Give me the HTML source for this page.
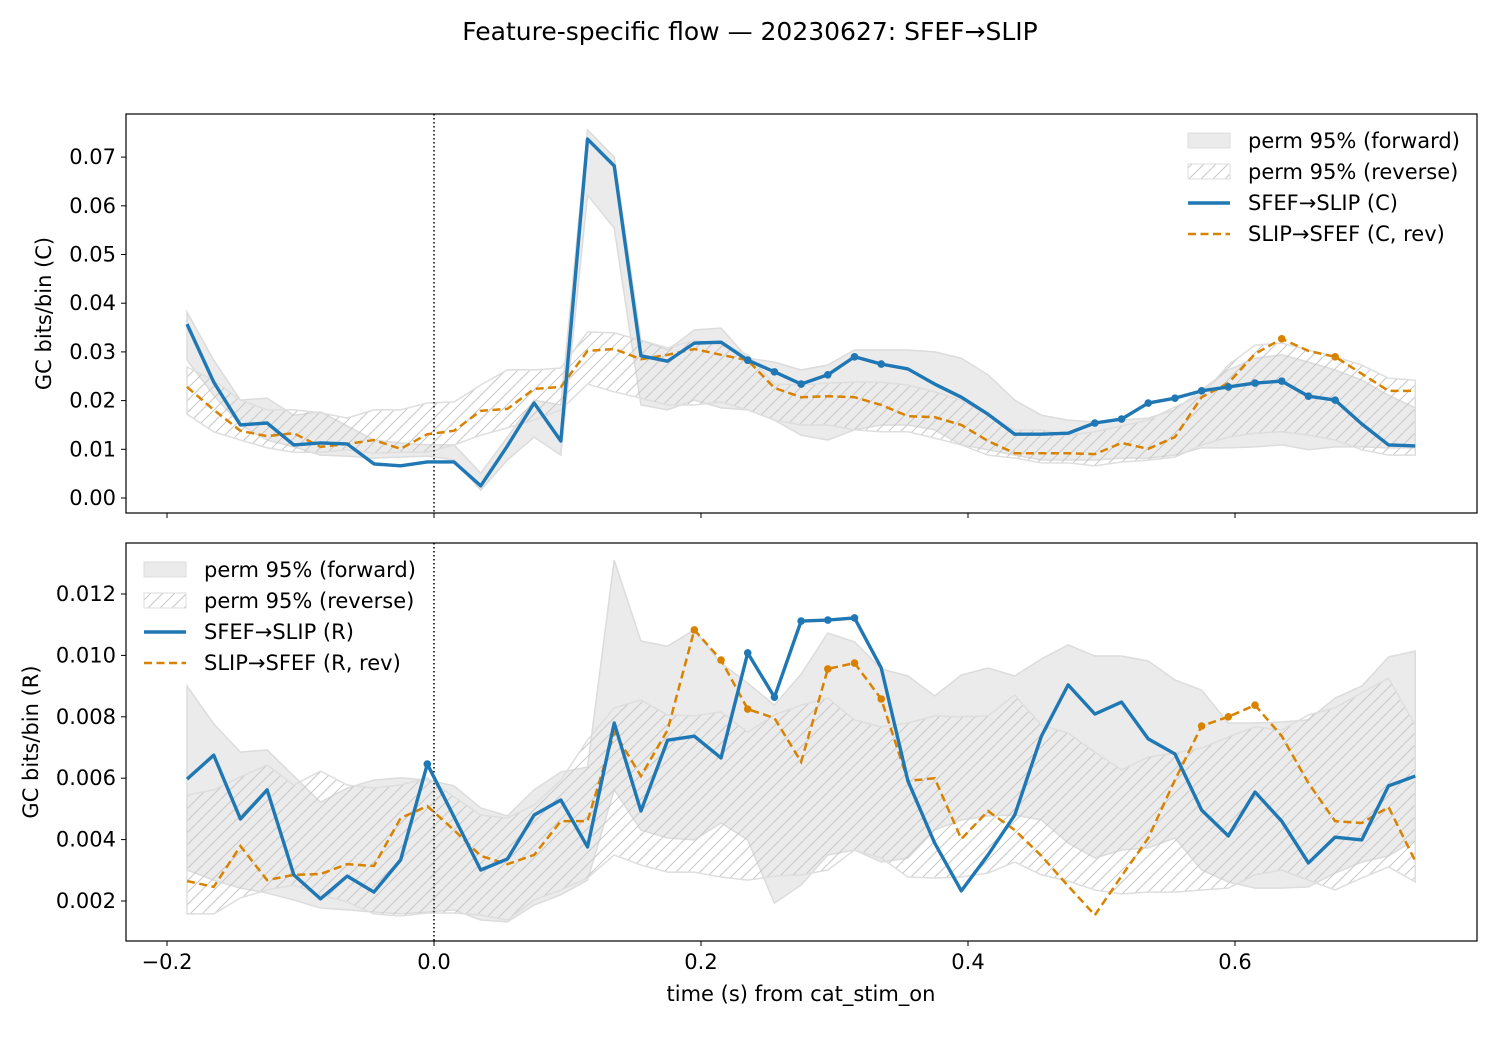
<!DOCTYPE html>
<html><head><meta charset="utf-8"><style>
body{margin:0;background:#fff}
svg text{font-family:"DejaVu Sans","Liberation Sans",sans-serif;fill:#000}
</style></head><body>
<svg id="fig" width="1500" height="1050" viewBox="0 0 1500 1050" xmlns="http://www.w3.org/2000/svg">
<defs>
<pattern id="hatch" patternUnits="userSpaceOnUse" width="12" height="12">
<path d="M-3,3 L3,-3 M0,12 L12,0 M9,15 L15,9" stroke="#c8c8c8" stroke-width="1"/>
</pattern>
</defs>
<text x="750" y="40" text-anchor="middle" font-size="25">Feature-specific flow — 20230627: SFEF→SLIP</text>
<g id="top"></g>
<g id="bot"></g>
<text x="801" y="1001" text-anchor="middle" font-size="21">time (s) from cat_stim_on</text>
</svg>
<script>
const times = Array.from({length:47},(_, i)=> -0.185 + 0.02*i);
// Top panel (C)
const topFwd = [0.0357,0.0238,0.0150,0.0154,0.0109,0.0113,0.0111,0.0070,0.0066,0.0074,0.0074,0.0025,0.0107,0.0195,0.0117,0.0737,0.0682,0.0292,0.0281,0.0318,0.0320,0.0283,0.0259,0.0234,0.0253,0.0290,0.0275,0.0265,0.0234,0.0207,0.0172,0.0131,0.0131,0.0133,0.0154,0.0162,0.0195,0.0205,0.0220,0.0228,0.0236,0.0240,0.0209,0.0201,0.0152,0.0109,0.0107];
const topRev = [0.0228,0.0181,0.0138,0.0127,0.0133,0.0105,0.0111,0.0119,0.0101,0.0131,0.0138,0.0179,0.0183,0.0224,0.0228,0.0302,0.0306,0.0285,0.0294,0.0306,0.0294,0.0283,0.0226,0.0207,0.0209,0.0207,0.0191,0.0168,0.0166,0.0150,0.0117,0.0092,0.0092,0.0092,0.0090,0.0113,0.0101,0.0125,0.0207,0.0236,0.0296,0.0327,0.0302,0.0290,0.0255,0.0220,0.0220];
const topFwdSig = [21,22,23,24,25,26,34,35,36,37,38,39,40,41,42,43];
const topRevSig = [21,41,43];
const topFwdHi = [.0382,.0283,.0201,.0205,.0170,.0177,.0148,.0119,.0113,.0109,.0109,.0051,.0125,.0201,.0191,.0756,.0700,.0324,.0304,.0345,.0349,.0287,.0279,.0263,.0273,.0304,.0304,.0304,.0300,.0287,.0253,.0201,.0170,.0160,.0156,.0160,.0164,.0181,.0222,.0263,.0287,.0294,.0279,.0263,.0242,.0211,.0185];
const topFwdLo = [.0283,.0211,.0150,.0119,.0105,.0088,.0086,.0082,.0084,.0086,.0078,.0016,.0078,.0125,.0088,.0622,.0554,.0191,.0181,.0201,.0185,.0181,.0160,.0129,.0119,.0140,.0150,.0150,.0140,.0109,.0099,.0088,.0078,.0078,.0078,.0082,.0082,.0088,.0103,.0103,.0105,.0109,.0099,.0105,.0105,.0103,.0103];
const topRevHi = [.0269,.0242,.0201,.0181,.0181,.0175,.0164,.0181,.0181,.0195,.0197,.0232,.0263,.0263,.0267,.0341,.0339,.0324,.0308,.0324,.0314,.0294,.0234,.0232,.0236,.0238,.0238,.0232,.0218,.0201,.0170,.0140,.0140,.0129,.0136,.0148,.0160,.0187,.0211,.0273,.0314,.0318,.0304,.0290,.0273,.0246,.0242];
const topRevLo = [.0172,.0136,.0119,.0103,.0094,.0094,.0099,.0092,.0094,.0094,.0109,.0129,.0144,.0160,.0181,.0234,.0218,.0205,.0191,.0191,.0197,.0181,.0160,.0150,.0150,.0140,.0136,.0136,.0123,.0109,.0088,.0082,.0072,.0072,.0066,.0074,.0078,.0084,.0109,.0125,.0133,.0136,.0129,.0119,.0099,.0088,.0088];
const topTicks = [0.00,0.01,0.02,0.03,0.04,0.05,0.06,0.07];
// Bottom panel (R)
const botFwd = [0.00597,0.00675,0.00467,0.00562,0.00285,0.00207,0.00281,0.00229,0.00334,0.00646,0.00474,0.00301,0.00337,0.00480,0.00529,0.00376,0.00780,0.00493,0.00724,0.00737,0.00666,0.01008,0.00864,0.01112,0.01115,0.01122,0.00959,0.00591,0.00389,0.00233,0.00350,0.00480,0.00737,0.00904,0.00809,0.00848,0.00728,0.00679,0.00496,0.00412,0.00555,0.00460,0.00324,0.00408,0.00399,0.00575,0.00607];
const botRev = [0.00265,0.00246,0.00379,0.00268,0.00285,0.00288,0.00320,0.00314,0.00470,0.00509,0.00431,0.00347,0.00320,0.00350,0.00460,0.00460,0.00750,0.00607,0.00757,0.01083,0.00985,0.00825,0.00796,0.00653,0.00956,0.00975,0.00858,0.00591,0.00600,0.00402,0.00493,0.00431,0.00347,0.00249,0.00154,0.00281,0.00405,0.00594,0.00770,0.00800,0.00838,0.00737,0.00584,0.00460,0.00454,0.00506,0.00330];
const botFwdSig = [9,21,22,23,24,25];
const botRevSig = [19,20,21,24,25,26,38,39,40];
const botFwdHi = [.00900,.00777,.00685,.00692,.00607,.00522,.00568,.00594,.00601,.00594,.00575,.00503,.00477,.00562,.00620,.00636,.01310,.01047,.01030,.01083,.00975,.00910,.00838,.00939,.01073,.01044,.00956,.00933,.00868,.00936,.00959,.00933,.00988,.01034,.00998,.00998,.00982,.00920,.00887,.00780,.00780,.00783,.00790,.00861,.00900,.00995,.01014];
const botFwdLo = [.00301,.00268,.00242,.00226,.00203,.00177,.00171,.00164,.00158,.00164,.00171,.00138,.00132,.00187,.00220,.00268,.00562,.00431,.00405,.00399,.00454,.00399,.00193,.00252,.00350,.00366,.00327,.00340,.00431,.00464,.00477,.00480,.00464,.00389,.00340,.00366,.00373,.00405,.00301,.00262,.00242,.00242,.00246,.00291,.00327,.00347,.00399];
const botRevHi = [.00545,.00562,.00604,.00643,.00578,.00623,.00578,.00568,.00578,.00601,.00539,.00480,.00470,.00513,.00594,.00724,.00829,.00855,.00806,.00803,.00816,.00750,.00806,.00838,.00861,.00790,.00767,.00780,.00803,.00800,.00803,.00871,.00773,.00747,.00685,.00627,.00669,.00682,.00698,.00734,.00767,.00757,.00806,.00829,.00878,.00926,.00773];
const botRevLo = [.00158,.00158,.00210,.00236,.00252,.00220,.00197,.00158,.00151,.00161,.00161,.00154,.00138,.00203,.00236,.00275,.00350,.00317,.00294,.00294,.00278,.00268,.00281,.00285,.00301,.00366,.00340,.00278,.00275,.00278,.00291,.00327,.00285,.00265,.00236,.00223,.00229,.00229,.00236,.00242,.00285,.00301,.00268,.00236,.00275,.00311,.00262];
const botTicks = [0.002,0.004,0.006,0.008,0.010,0.012];
const xTicks = [-0.2,0.0,0.2,0.4,0.6];

const NS='http://www.w3.org/2000/svg';
const X0=126, X1=1477;
const xs = t => 434 + t*1335;
function mk(parent, tag, attrs){const e=document.createElementNS(NS,tag);for(const k in attrs)e.setAttribute(k,attrs[k]);parent.appendChild(e);return e;}

function panel(g, top, bottom, ys, d, showXLabels){
  const {fwd,rev,fHi,fLo,rHi,rLo,fSig,rSig,ticks,dec,ylabel,ylx,legX,legY,tag} = d;
  let pts = times.map((t,i)=>xs(t)+','+ys(fHi[i])).concat(times.map((t,i)=>xs(t)+','+ys(fLo[i])).reverse());
  const fb = mk(g,'polygon',{points:pts.join(' '),fill:'#ebebeb',stroke:'#dcdcdc','stroke-width':1.5});
  
  
  pts = times.map((t,i)=>xs(t)+','+ys(rHi[i])).concat(times.map((t,i)=>xs(t)+','+ys(rLo[i])).reverse());
  const rb = mk(g,'polygon',{points:pts.join(' '),fill:'url(#hatch)',stroke:'#dedede','stroke-width':1.5});
  
  
  const zl = mk(g,'line',{x1:xs(0),x2:xs(0),y1:top,y2:bottom,stroke:'#000','stroke-width':1.5,'stroke-dasharray':'1.5,2.5'});
  
  
  const rl = mk(g,'polyline',{points:times.map((t,i)=>xs(t)+','+ys(rev[i])).join(' '),fill:'none',stroke:'#d98200','stroke-width':2.5,'stroke-dasharray':'8,4.5'});
  
  
  const fl = mk(g,'polyline',{points:times.map((t,i)=>xs(t)+','+ys(fwd[i])).join(' '),fill:'none',stroke:'#1f77b4','stroke-width':3.4,'stroke-linejoin':'round'});
  
  
  rSig.forEach(i=>{const c=mk(g,'circle',{cx:xs(times[i]),cy:ys(rev[i]),r:3.8,fill:'#d98200'});
    
    });
  fSig.forEach(i=>{const c=mk(g,'circle',{cx:xs(times[i]),cy:ys(fwd[i]),r:3.8,fill:'#1f77b4'});
    
    });
  const fr = mk(g,'rect',{x:X0,y:top,width:X1-X0,height:bottom-top,fill:'none',stroke:'#000','stroke-width':1.2});
  
  
  ticks.forEach(v=>{const y=ys(v);
    mk(g,'line',{x1:X0-5,x2:X0,y1:y,y2:y,stroke:'#000','stroke-width':1});
    const t=mk(g,'text',{x:X0-10,y:y+7,'text-anchor':'end','font-size':21});t.textContent=v.toFixed(dec);
    
    });
  xTicks.forEach(v=>{const x=xs(v);
    mk(g,'line',{x1:x,x2:x,y1:bottom,y2:bottom+5,stroke:'#000','stroke-width':1});
    if(showXLabels){const t=mk(g,'text',{x:x,y:bottom+28,'text-anchor':'middle','font-size':21});t.textContent=(v<0?'−':'')+Math.abs(v).toFixed(1);
      
      }});
  const yl = mk(g,'text',{x:ylx,y:(top+bottom)/2,'text-anchor':'middle','font-size':21,transform:`rotate(-90 ${ylx} ${(top+bottom)/2})`});
  yl.textContent=ylabel;
  
  
  const lg = mk(g,'g',{});
  
  
  const labels=['perm 95% (forward)','perm 95% (reverse)','SFEF→SLIP ('+tag+')','SLIP→SFEF ('+tag+', rev)'];
  labels.forEach((s,k)=>{const cy=legY+k*31;
    if(k===0) mk(lg,'rect',{x:legX,y:cy-8,width:42,height:15,fill:'#ebebeb',stroke:'#dcdcdc'});
    if(k===1) mk(lg,'rect',{x:legX,y:cy-8,width:42,height:15,fill:'url(#hatch)',stroke:'#dedede'});
    if(k===2) mk(lg,'line',{x1:legX,x2:legX+42,y1:cy,y2:cy,stroke:'#1f77b4','stroke-width':3.4});
    if(k===3) mk(lg,'line',{x1:legX,x2:legX+42,y1:cy,y2:cy,stroke:'#d98200','stroke-width':2.5,'stroke-dasharray':'8,4.5'});
    const t=mk(lg,'text',{x:legX+60,y:cy+7,'font-size':21});t.textContent=s;
    
    });
}
panel(document.getElementById('top'),114,513,v=>498-v*4870,
 {fwd:topFwd,rev:topRev,fHi:topFwdHi,fLo:topFwdLo,rHi:topRevHi,rLo:topRevLo,fSig:topFwdSig,rSig:topRevSig,ticks:topTicks,dec:2,ylabel:'GC bits/bin (C)',ylx:51,legX:1188,legY:141,tag:'C'},false);
panel(document.getElementById('bot'),543,941,v=>901-(v-0.002)*30700,
 {fwd:botFwd,rev:botRev,fHi:botFwdHi,fLo:botFwdLo,rHi:botRevHi,rLo:botRevLo,fSig:botFwdSig,rSig:botRevSig,ticks:botTicks,dec:3,ylabel:'GC bits/bin (R)',ylx:38,legX:144,legY:570,tag:'R'},true);
</script>
</body></html>
